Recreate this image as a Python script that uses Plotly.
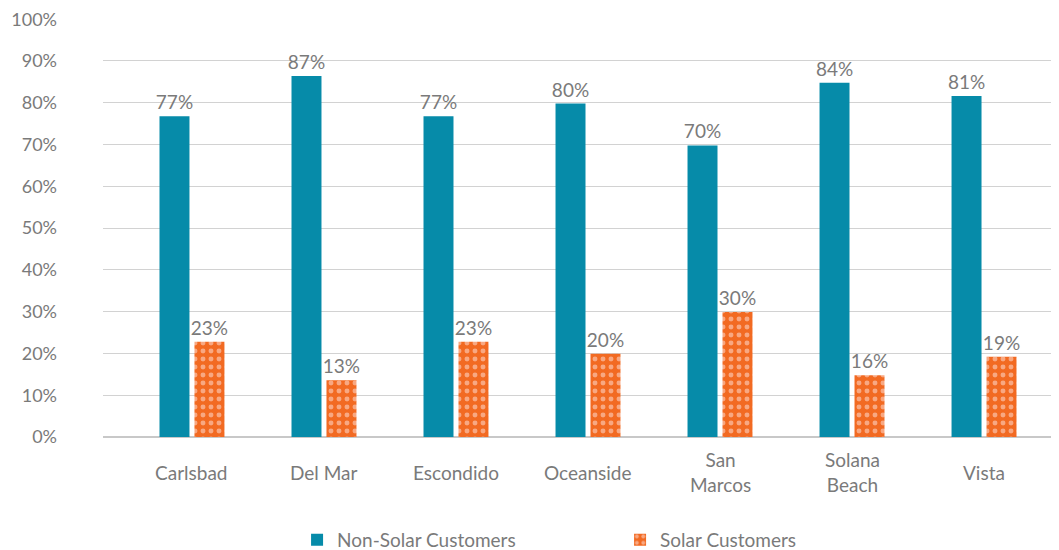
import plotly.graph_objects as go

cities = ["Carlsbad", "Del Mar", "Escondido", "Oceanside", "San<br>Marcos", "Solana<br>Beach", "Vista"]
non_solar = [76.8, 86.4, 76.8, 79.8, 69.8, 84.8, 81.6]
non_solar_labels = ["77%", "87%", "77%", "80%", "70%", "84%", "81%"]
solar = [22.8, 13.6, 22.8, 19.9, 29.9, 14.8, 19.2]
solar_labels = ["23%", "13%", "23%", "20%", "30%", "16%", "19%"]
y_ticks = list(range(0, 101, 10))
y_tick_labels = [f"{v}%" for v in y_ticks]

TEAL = "#068BA9"
ORANGE = "#F26A22"
GRAY = "#7a7a7a"
FONT = "Lato, Noto Sans, sans-serif"

fig = go.Figure()
fig.add_trace(go.Bar(
    x=list(range(len(cities))), y=non_solar, name="Non-Solar Customers",
    marker=dict(color=TEAL, line=dict(width=0)),
    text=non_solar_labels, textposition="outside", cliponaxis=False,
    constraintext="none",
    textfont=dict(color=GRAY, size=19, family=FONT),
))
fig.add_trace(go.Bar(
    x=list(range(len(cities))), y=solar, name="Solar Customers",
    marker=dict(color=ORANGE, line=dict(width=0),
                pattern=dict(shape=".", fgcolor="#F8A882", bgcolor=ORANGE,
                             size=8, solidity=0.3, fillmode="replace")),
    text=solar_labels, textposition="outside", cliponaxis=False,
    constraintext="none",
    textfont=dict(color=GRAY, size=19, family=FONT),
))

for i, c in enumerate(cities):
    fig.add_annotation(x=i, xref="x", y=0, yref="paper", yshift=-35,
                       yanchor="middle", text=c, showarrow=False,
                       font=dict(color=GRAY, size=19, family=FONT))

# page body has an 8px margin, so the figure is offset by (8, 8)
fig.update_layout(
    width=1059, height=550,
    margin=dict(l=95, r=8, t=11, b=121, autoexpand=False),
    paper_bgcolor="white", plot_bgcolor="white",
    barmode="group", bargap=0.47, bargroupgap=0.143,
    font=dict(family=FONT, color=GRAY, size=18),
    showlegend=True,
    legend=dict(orientation="h", x=0.203, xanchor="left", y=-0.246, yanchor="middle",
                font=dict(size=19, color=GRAY, family=FONT), entrywidth=278,
                itemwidth=30, bgcolor="rgba(0,0,0,0)"),
)
fig.update_xaxes(range=[-0.674, 6.568], showticklabels=False, showgrid=False,
                 zeroline=False, showline=False, ticks="", automargin=False)
fig.update_yaxes(range=[0, 100.05], tickvals=y_ticks, ticktext=y_tick_labels,
                 showgrid=True, gridcolor="#d2d2d2", gridwidth=1,
                 zeroline=True, zerolinecolor="#c8c8c8", zerolinewidth=2,
                 automargin=False, ticklabeloverflow="allow",
                 ticklabelstandoff=45, tickfont=dict(size=18, color=GRAY, family=FONT))

fig.write_html("out.html")
